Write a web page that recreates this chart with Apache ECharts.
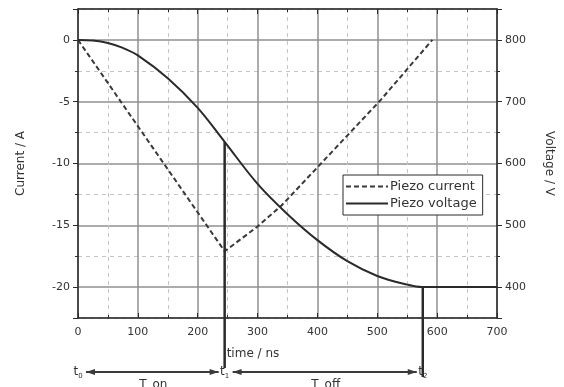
<!DOCTYPE html>
<html>
<head>
<meta charset="utf-8">
<script src="https://cdn.jsdelivr.net/npm/echarts@6/dist/echarts.min.js"></script>
<style>
  html, body { margin: 0; padding: 0; background: #fff; }
  #chart { width: 564px; height: 387px; }
</style>
</head>
<body>
<div id="chart"></div>
<script>
// time (ns) / current (A)
const currentTime = [0, 245, 300, 340, 505, 592];
const currentValues = [0, -17.1, -15.1, -13.4, -4.9, 0];

// time (ns) / voltage (V)
const voltageTime = [0, 25, 50, 75, 100, 150, 200, 245, 300, 350, 400, 450, 500, 550, 575, 700];
const voltageValues = [800, 799, 795, 787, 775, 738, 690, 635, 567, 518, 476, 442, 418, 404, 400, 400];

// switching instants and their labels
const markTimes = [0, 245, 576];
const markLabels = ['0', '1', '2'];
const spanLabels = ['T_on', 'T_off'];

const FONT = 'DejaVu Sans';
const INK = '#2a2a2a';

const chart = echarts.init(document.getElementById('chart'));

const hideEdge = (min, max) => v => (v === min || v === max) ? '' : String(v);

const option = {
  animation: false,
  textStyle: { fontFamily: FONT },
  grid: { left: 78, right: 67, top: 9, bottom: 69 },
  legend: {
    orient: 'vertical',
    left: 343,
    top: 175,
    width: 139,
    padding: [5, 6, 5, 2],
    itemGap: 4,
    itemWidth: 42,
    itemHeight: 13,
    borderColor: INK,
    borderWidth: 1,
    backgroundColor: '#fff',
    itemStyle: { opacity: 0 },
    textStyle: { fontSize: 13, color: '#333', fontFamily: FONT, padding: [0, 0, 0, -3] },
    data: ['Piezo current', 'Piezo voltage']
  },
  xAxis: [
    {
      type: 'value', min: 0, max: 700, interval: 100,
      axisLine: { onZero: false, lineStyle: { color: INK, width: 1.5 } },
      axisTick: { inside: true, length: 5, lineStyle: { color: INK } },
      minorTick: { show: true, splitNumber: 2, length: 3, lineStyle: { color: INK } },
      axisLabel: { color: '#333', fontSize: 11, margin: 9 },
      splitLine: { show: true, lineStyle: { color: '#909090', width: 1.5 } },
      minorSplitLine: { show: true, lineStyle: { color: '#c4c4c4', width: 1, type: [4, 4] } }
    },
    {
      type: 'value', min: 0, max: 700, interval: 100, position: 'top',
      axisLine: { show: true, onZero: false, lineStyle: { color: INK, width: 1.5 } },
      axisTick: { inside: true, length: 5, lineStyle: { color: INK } },
      minorTick: { show: true, splitNumber: 2, length: 3, lineStyle: { color: INK } },
      axisLabel: { show: false },
      splitLine: { show: false }
    }
  ],
  yAxis: [
    {
      type: 'value', min: -22.5, max: 2.5, splitNumber: 5,
      name: 'Current / A', nameLocation: 'middle', nameGap: 51,
      nameTextStyle: { fontSize: 12, color: '#333' },
      axisLine: { show: true, onZero: false, lineStyle: { color: INK, width: 1.5 } },
      axisTick: { length: 5, lineStyle: { color: INK } },
      axisLabel: { color: '#333', fontSize: 11, margin: 8, formatter: hideEdge(-22.5, 2.5) },
      splitLine: { show: true, lineStyle: { color: '#909090', width: 1.5 } }
    },
    {
      type: 'value', min: 350, max: 850, splitNumber: 5, position: 'right',
      name: 'Voltage / V', nameLocation: 'middle', nameGap: 46, nameRotate: -90,
      nameTextStyle: { fontSize: 12, color: '#333' },
      axisLine: { show: true, onZero: false, lineStyle: { color: INK, width: 1.5 } },
      axisTick: { length: 5, lineStyle: { color: INK } },
      axisLabel: { color: '#333', fontSize: 11, margin: 8, formatter: hideEdge(350, 850) },
      splitLine: { show: false }
    },
    {
      // minor gridlines between the current ticks
      type: 'value', min: -22.5, max: 2.5, interval: 5, position: 'left',
      axisLine: { show: false, onZero: false },
      axisTick: { length: 3, lineStyle: { color: INK } },
      axisLabel: { show: false },
      splitLine: { show: true, lineStyle: { color: '#c4c4c4', width: 1, type: [4, 4] } }
    },
    {
      type: 'value', min: 350, max: 850, interval: 100, position: 'right',
      axisLine: { show: false, onZero: false },
      axisTick: { length: 3, lineStyle: { color: INK } },
      axisLabel: { show: false },
      splitLine: { show: false }
    }
  ],
  series: [
    {
      name: 'Piezo current',
      type: 'line',
      yAxisIndex: 0,
      symbol: 'none',
      z: 5,
      lineStyle: { color: '#3a3a3a', width: 2, type: [5, 3] },
      itemStyle: { color: '#3a3a3a' },
      data: currentTime.map((t, i) => [t, currentValues[i]])
    },
    {
      name: 'Piezo voltage',
      type: 'line',
      yAxisIndex: 1,
      symbol: 'none',
      smooth: 0.35,
      z: 5,
      lineStyle: { color: '#2a2a2a', width: 2 },
      itemStyle: { color: '#2a2a2a' },
      data: voltageTime.map((t, i) => [t, voltageValues[i]])
    }
  ]
};

chart.setOption(option);

// annotation below the axis, placed through the chart's own scales
function drawMarks() {
  const px = markTimes.map(t => chart.convertToPixel({ xAxisIndex: 0 }, t));
  const vTop = [
    null,
    chart.convertToPixel({ yAxisIndex: 1 }, voltageValues[voltageTime.indexOf(245)]),
    chart.convertToPixel({ yAxisIndex: 1 }, 400)
  ];
  const arrowY = 372;
  const els = [];

  // vertical markers from the voltage curve down past the axis
  [1, 2].forEach(i => {
    els.push({
      type: 'line', z: 20,
      shape: { x1: px[i], y1: vTop[i], x2: px[i], y2: i === 1 ? 368 : 377 },
      style: { stroke: '#2a2a2a', lineWidth: 2.5 }
    });
  });

  // t labels
  px.forEach((x, i) => {
    els.push({
      type: 'text', z: 20,
      x: x, y: arrowY,
      style: {
        text: '{t|t}{s|' + markLabels[i] + '}',
        align: 'center', verticalAlign: 'middle',
        rich: {
          t: { fontSize: 12, fontFamily: FONT, fill: '#333' },
          s: { fontSize: 7, fontFamily: FONT, fill: '#333', padding: [8, 0, 0, 0] }
        }
      }
    });
  });

  // arrows between the instants
  const arrow = (xa, xb) => {
    els.push({
      type: 'line', z: 20,
      shape: { x1: xa, y1: arrowY, x2: xb, y2: arrowY },
      style: { stroke: '#3a3a3a', lineWidth: 2 }
    });
    [[xa, 1], [xb, -1]].forEach(([x, d]) => {
      els.push({
        type: 'polygon', z: 20,
        shape: { points: [[x, arrowY], [x + 9 * d, arrowY - 3], [x + 9 * d, arrowY + 3]] },
        style: { fill: '#3a3a3a' }
      });
    });
  };
  arrow(px[0] + 8, px[1] - 6);
  arrow(px[1] + 8, px[2] - 6);

  els.push({
    type: 'text', z: 20, x: (px[0] + px[1]) / 2 + 2, y: 379,
    style: { text: spanLabels[0], fontSize: 12, fontFamily: FONT, fill: '#333', align: 'center' }
  });
  els.push({
    type: 'text', z: 20, x: (px[1] + px[2]) / 2 + 2, y: 379,
    style: { text: spanLabels[1], fontSize: 12, fontFamily: FONT, fill: '#333', align: 'center' }
  });

  // x axis title, sitting just right of the t1 marker
  els.push({
    type: 'text', z: 20, x: px[1] + 2, y: 348,
    style: { text: 'time / ns', fontSize: 12, fontFamily: FONT, fill: '#333' }
  });

  chart.setOption({ graphic: els });
}

drawMarks();
</script>
</body>
</html>
